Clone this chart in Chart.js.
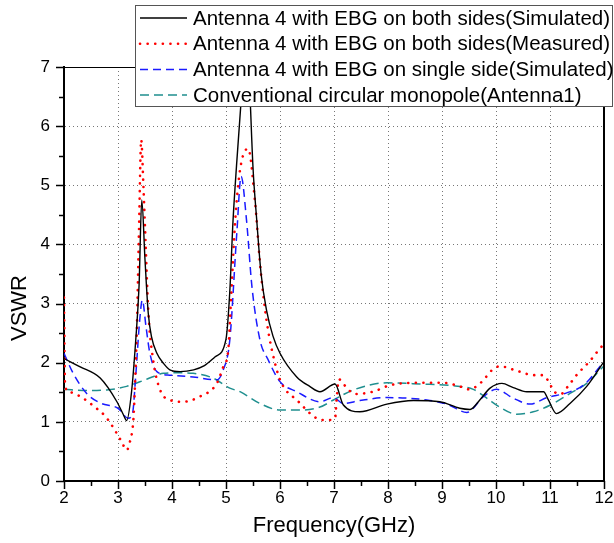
<!DOCTYPE html>
<html lang="en">
<head>
<meta charset="utf-8"/>
<title>VSWR – Antenna 4 with EBG</title>
<script src="https://cdn.jsdelivr.net/npm/chart.js"></script>
<style>
  body{margin:0;background:#fff}
  canvas{display:block}
</style>
</head>
<body>
<canvas id="vswrChart" width="614" height="543"></canvas>
<script>
// tick values
const xTicks=[2,3,4,5,6,7,8,9,10,11,12];
const yTicks=[0,1,2,3,4,5,6,7];

// Antenna 4, EBG both sides, simulated
const freqBothSim=[2.0,2.3,2.67,2.98,3.1,3.16,3.25,3.33,3.39,3.44,3.5,3.56,3.62,3.72,3.85,3.96,4.15,4.4,4.6,4.8,5.0,5.07,5.13,5.2,5.27,5.33,5.37,5.42,5.5,5.57,5.65,5.75,5.87,6.0,6.31,6.55,6.74,7.02,7.17,7.48,7.98,8.47,8.96,9.33,9.52,9.7,9.89,10.11,10.32,10.57,10.88,10.97,11.12,11.37,11.68,12.0];
const vswrBothSim=[2.07,1.93,1.74,1.34,1.12,1.02,1.5,2.4,3.3,4.75,3.74,2.84,2.44,2.16,1.98,1.88,1.85,1.88,1.95,2.1,2.4,3.2,4.4,5.4,6.3,7.0,7.4,7.0,5.3,4.4,3.5,2.89,2.45,2.16,1.76,1.6,1.51,1.64,1.29,1.17,1.30,1.36,1.34,1.23,1.21,1.37,1.57,1.65,1.58,1.51,1.51,1.37,1.14,1.31,1.6,2.02];

// Antenna 4, EBG both sides, measured
const freqBothMeas=[2.0,2.02,2.11,2.3,2.6,2.76,2.88,3.07,3.16,3.22,3.28,3.3,3.35,3.39,3.43,3.47,3.5,3.56,3.65,3.78,3.96,4.21,4.52,4.83,4.95,5.04,5.1,5.17,5.26,5.41,5.54,5.63,5.75,5.94,6.06,6.31,6.68,6.87,7.02,7.05,7.09,7.24,7.39,7.72,8.04,8.53,9.02,9.33,9.49,9.64,9.78,9.92,10.07,10.4,10.7,10.86,10.99,11.06,11.2,11.34,11.5,11.74,11.87,12.0];
const vswrBothMeas=[3.1,1.6,1.5,1.43,1.23,1.10,0.95,0.66,0.52,0.66,0.98,1.3,2.6,4.3,5.77,5.0,4.3,2.89,2.05,1.54,1.37,1.34,1.43,1.65,1.93,2.2,3.2,4.4,5.26,5.62,4.7,3.68,2.72,1.88,1.6,1.37,1.06,1.03,1.06,1.4,1.72,1.57,1.47,1.51,1.62,1.66,1.66,1.6,1.55,1.6,1.72,1.87,1.94,1.86,1.79,1.79,1.66,1.53,1.47,1.61,1.8,2.03,2.18,2.32];

// Antenna 4, EBG single side, simulated
const freqSingleSim=[2.0,2.17,2.42,2.67,3.0,3.19,3.27,3.33,3.4,3.45,3.52,3.59,3.72,3.96,4.39,4.83,4.95,5.07,5.2,5.28,5.38,5.48,5.63,5.78,6.0,6.31,6.74,6.99,7.17,7.48,7.98,8.72,9.09,9.46,9.77,10.01,10.32,10.63,10.94,11.31,11.62,12.0];
const vswrSingleSim=[2.16,1.82,1.48,1.32,1.23,1.06,1.15,1.8,2.7,3.06,2.6,2.16,1.85,1.79,1.76,1.71,1.88,2.38,4.19,5.15,4.41,3.29,2.38,2.05,1.68,1.51,1.34,1.41,1.31,1.36,1.41,1.37,1.30,1.16,1.43,1.55,1.40,1.30,1.41,1.49,1.62,2.02];

// Conventional circular monopole (Antenna 1)
const freqConv=[2.0,2.42,2.79,3.16,3.53,3.84,4.1,4.39,4.76,5.07,5.26,5.63,6.0,6.37,6.74,6.99,7.36,7.98,8.59,9.21,9.58,9.83,10.07,10.38,10.69,11.0,11.37,11.68,12.0];
const vswrConv=[1.55,1.53,1.54,1.6,1.72,1.82,1.83,1.82,1.74,1.57,1.51,1.31,1.2,1.2,1.25,1.37,1.54,1.66,1.64,1.61,1.55,1.40,1.25,1.13,1.17,1.28,1.48,1.65,1.95];

const seriesLabels=[
  'Antenna 4 with EBG on both sides(Simulated)',
  'Antenna 4 with EBG on both sides(Measured)',
  'Antenna 4 with EBG on single side(Simulated)',
  'Conventional circular monopole(Antenna1)'
];
const yTitle='VSWR';

const FONT='"Liberation Sans", Arial, sans-serif';
const pts=(xs,ys)=>xs.map((f,i)=>({x:f,y:ys[i]}));

const frameAndLegend={
  id:'frameAndLegend',
  afterDraw(chart){
    const {ctx,chartArea:a,scales:{x,y}}=chart;
    ctx.save();
    ctx.strokeStyle='#000';
    // frame top / right
    ctx.lineWidth=1;
    ctx.beginPath();ctx.moveTo(a.left,a.top+0.5);ctx.lineTo(a.right,a.top+0.5);ctx.stroke();
    ctx.lineWidth=2;
    ctx.beginPath();ctx.moveTo(a.right,a.top);ctx.lineTo(a.right,a.bottom);ctx.stroke();
    // major/minor ticks, outward
    ctx.lineWidth=1.5;
    for(let v=x.min;v<=x.max+1e-9;v+=0.5){
      const px=Math.round(x.getPixelForValue(v))+0.5,len=Number.isInteger(v)?8:5;
      ctx.beginPath();ctx.moveTo(px,a.bottom);ctx.lineTo(px,a.bottom+len);ctx.stroke();
    }
    for(let v=y.min;v<=y.max+1e-9;v+=0.5){
      const py=Math.round(y.getPixelForValue(v))+0.5,len=Number.isInteger(v)?8:5;
      ctx.beginPath();ctx.moveTo(a.left,py);ctx.lineTo(a.left-len,py);ctx.stroke();
    }
    // y title, sits a bit below the middle like the original
    ctx.save();
    ctx.translate(20,308);ctx.rotate(-Math.PI/2);
    ctx.font='22px '+FONT;ctx.fillStyle='#000';ctx.textAlign='center';ctx.textBaseline='middle';
    ctx.fillText(yTitle,0,0);
    ctx.restore();
    // legend box
    const bx=135,by=5,bw=477,bh=101,rowH=25.7;
    ctx.fillStyle='#fff';ctx.fillRect(bx,by,bw,bh);
    ctx.strokeStyle='#555';ctx.lineWidth=1;
    ctx.strokeRect(bx+0.5,by+0.5,bw,bh);
    ctx.font='20.5px '+FONT;ctx.textBaseline='middle';ctx.textAlign='left';
    chart.data.datasets.forEach((ds,i)=>{
      const ry=by+13+i*rowH;
      ctx.save();
      ctx.strokeStyle=ds.borderColor;ctx.lineWidth=ds.borderWidth;
      ctx.setLineDash(ds.borderDash||[]);ctx.lineCap=ds.borderCapStyle||'butt';
      ctx.beginPath();ctx.moveTo(140,ry);ctx.lineTo(187,ry);ctx.stroke();
      ctx.restore();
      ctx.fillStyle='#000';
      ctx.fillText(ds.label,193,ry+1);
    });
    ctx.restore();
  }
};

new Chart(document.getElementById('vswrChart'),{
  type:'line',
  data:{
    datasets:[
      {label:seriesLabels[0],data:pts(freqBothSim,vswrBothSim),borderColor:'#000000',borderWidth:1.4},
      {label:seriesLabels[1],data:pts(freqBothMeas,vswrBothMeas),borderColor:'#ff0000',borderWidth:2.6,borderDash:[0.1,7.5],borderCapStyle:'round'},
      {label:seriesLabels[2],data:pts(freqSingleSim,vswrSingleSim),borderColor:'#1a1aff',borderWidth:1.5,borderDash:[8,5]},
      {label:seriesLabels[3],data:pts(freqConv,vswrConv),borderColor:'#1f8f8f',borderWidth:1.5,borderDash:[9,5]}
    ]
  },
  options:{
    responsive:false,
    animation:false,
    layout:{padding:{top:67,right:10,left:0,bottom:0}},
    elements:{
      point:{radius:0,hoverRadius:0},
      line:{cubicInterpolationMode:'monotone',fill:false}
    },
    plugins:{legend:{display:false},tooltip:{enabled:false}},
    scales:{
      x:{
        type:'linear',min:2,max:12,
        afterFit(s){s.height=62;s.paddingLeft=0;s.paddingRight=0;},
        afterBuildTicks(s){s.ticks=xTicks.map(v=>({value:v}));},
        ticks:{color:'#000',font:{family:FONT,size:17},padding:7,maxRotation:0},
        grid:{drawTicks:false,color:c=>(c.tick&&(c.tick.value===2||c.tick.value===12))?'rgba(0,0,0,0)':'#777',lineWidth:1},
        border:{color:'#000',width:2,dash:[1,3]},
        title:{display:true,text:'Frequency(GHz)',color:'#000',font:{family:FONT,size:22},padding:{top:0,bottom:4}}
      },
      y:{
        type:'linear',min:0,max:7,
        afterFit(s){s.width=64;s.paddingTop=0;s.paddingBottom=0;},
        afterBuildTicks(s){s.ticks=yTicks.map(v=>({value:v}));},
        ticks:{color:'#000',font:{family:FONT,size:17},padding:14},
        grid:{drawTicks:false,color:c=>(c.tick&&(c.tick.value===0||c.tick.value===7))?'rgba(0,0,0,0)':'#777',lineWidth:1},
        border:{color:'#000',width:2,dash:[1,3]},
        title:{display:false}
      }
    }
  },
  plugins:[frameAndLegend]
});
</script>
</body>
</html>
